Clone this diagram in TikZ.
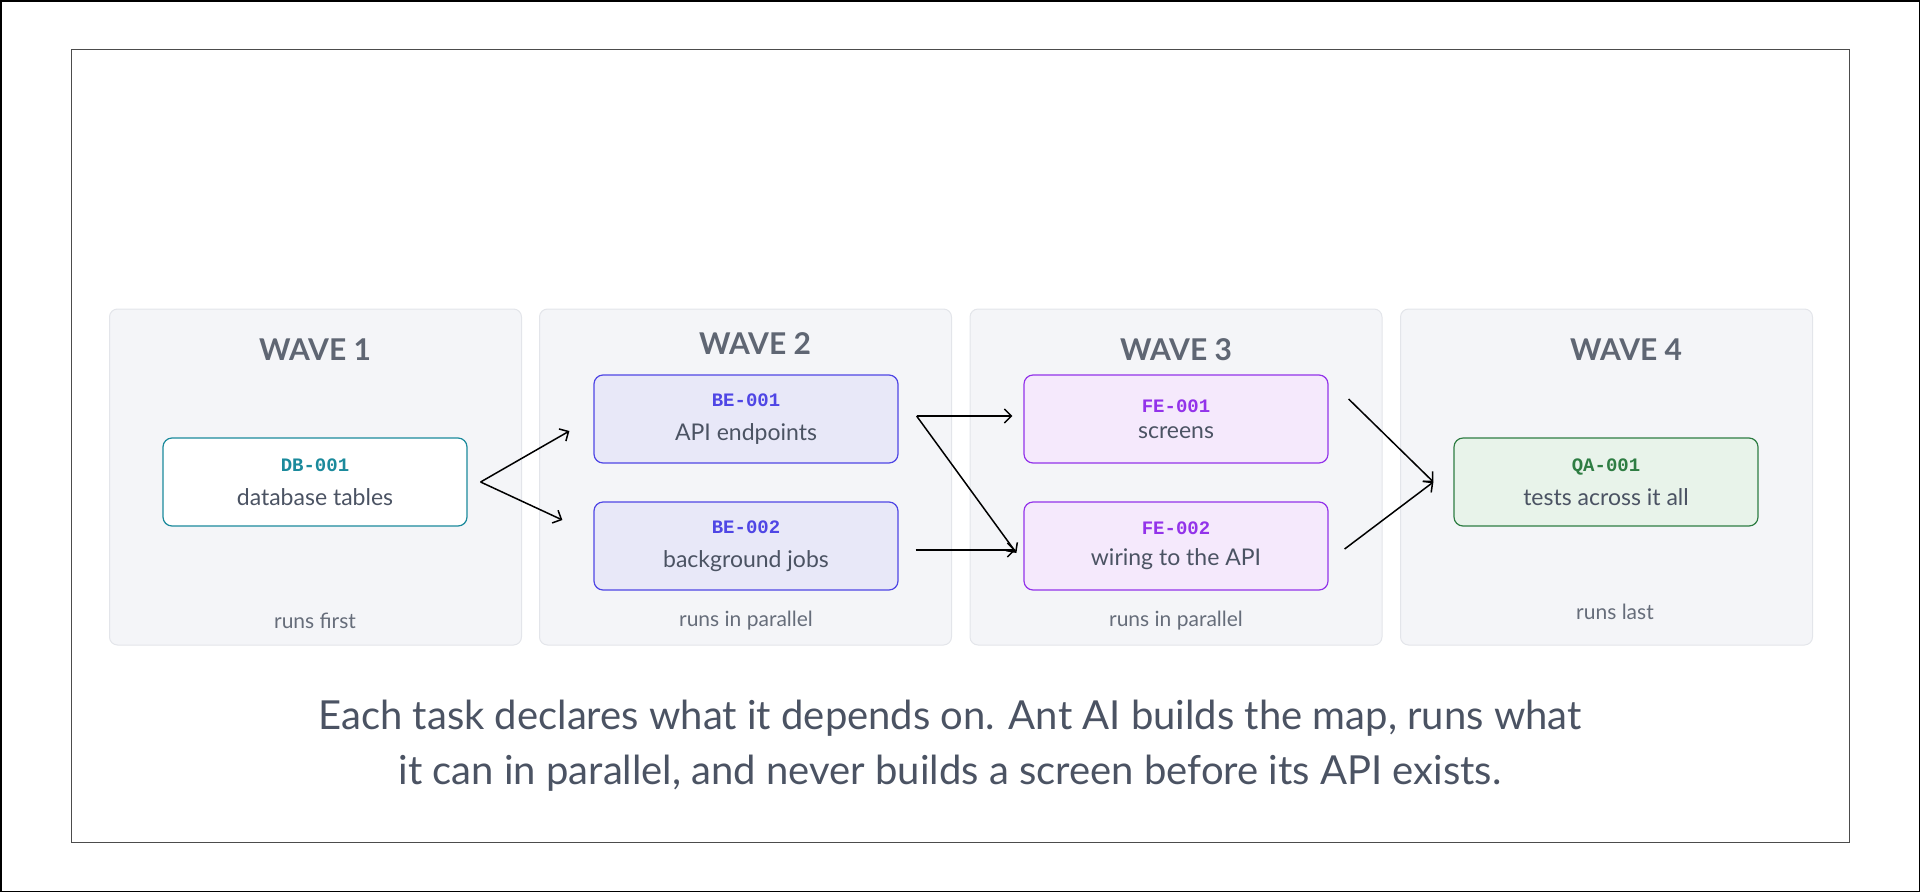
\documentclass[tikz,border=0pt]{standalone}
\usepackage{fontspec}
\setmainfont{Lato}
\newfontfamily\idfont{Liberation Mono}
\usetikzlibrary{positioning,arrows.meta}
\definecolor{panelfill}{HTML}{F4F5F8}
\definecolor{panelline}{HTML}{E3E5EA}
\definecolor{titlegray}{HTML}{5F6673}
\definecolor{textgray}{HTML}{4B5363}
\definecolor{dbcol}{HTML}{1B8A9C}
\definecolor{becol}{HTML}{4F46E5}
\definecolor{befill}{HTML}{E8E8F8}
\definecolor{fecol}{HTML}{9333EA}
\definecolor{fefill}{HTML}{F5E9FC}
\definecolor{qacol}{HTML}{2E7D43}
\definecolor{qafill}{HTML}{E8F3EA}
\tikzset{
  panel/.style={draw=panelline, fill=panelfill, rounded corners=8pt, line width=1pt,
    minimum width=412pt, minimum height=336pt, inner sep=0pt},
  task/.style={rounded corners=9pt, line width=1.2pt, minimum width=304pt,
    minimum height=88pt, align=center, text=textgray, font=\fontsize{23}{34}\selectfont},
  wavetitle/.style={text=titlegray, font=\fontsize{30}{34}\selectfont\bfseries},
  wavenote/.style={text=textgray!85, font=\fontsize{21}{24}\selectfont},
  link/.style={-{Straight Barb[length=7pt,width=14pt]}, line width=1.5pt},
}
\newcommand{\taskid}[2]{{\color{#1}\idfont\bfseries\fontsize{19}{22}\selectfont #2}}
\begin{document}
\begin{tikzpicture}[x=1pt, y=-1pt]
\useasboundingbox (0,0) rectangle (1920,892);
\draw[line width=1.5pt] (0.75,0.75) rectangle (1919.25,891.25);
\draw[line width=0.8pt, draw=black!70] (71,49) rectangle (1849,842);

% --- waves ---
\node[panel] (w1) at (315.5,477) {};
\node[panel] (w2) at (745.5,477) {};
\node[panel] (w3) at (1176,477) {};
\node[panel] (w4) at (1606.5,477) {};

\node[wavetitle] (t1) at (315,350) {WAVE 1};
\node[wavetitle] (t2) at (755,344) {WAVE 2};
\node[wavetitle] (t3) at (1176,350) {WAVE 3};
\node[wavetitle] (t4) at (1626,350) {WAVE 4};

\node[wavenote] (n1) at (315,621) {runs first};
\node[wavenote] (n2) at (746,621) {runs in parallel};
\node[wavenote] (n3) at (1176,621) {runs in parallel};
\node[wavenote] (n4) at (1615,612) {runs last};

% --- tasks ---
\node[task, draw=dbcol, fill=white] (db1) at (315,482) {\taskid{dbcol}{DB-001}\\database tables};
\node[task, draw=becol, fill=befill] (be1) at (746,419) {\taskid{becol}{BE-001}\\API endpoints};
\node[task, draw=becol, fill=befill] (be2) at (746,546) {\taskid{becol}{BE-002}\\background jobs};
\node[task, draw=fecol, fill=fefill] (fe1) at (1176,419) {\taskid{fecol}{FE-001}\\[-8pt]screens};
\node[task, draw=fecol, fill=fefill] (fe2) at (1176,546) {\taskid{fecol}{FE-002}\\[-3pt]wiring to the API};
\node[task, draw=qacol, fill=qafill] (qa1) at (1606,482) {\taskid{qacol}{QA-001}\\tests across it all};

% --- dependencies ---
\coordinate (dbout) at ([xshift=13pt]db1.east);
\draw[link] (dbout) -- ([xshift=-24pt,yshift=-12pt]be1.west);
\draw[link] (dbout) -- ([xshift=-31pt,yshift=26pt]be2.west);
\coordinate (be1out) at ([xshift=18pt,yshift=3pt]be1.east);
\draw[link] (be1out) -- ([xshift=-11pt,yshift=3pt]fe1.west);
\draw[link] (be1out) -- ([xshift=-7pt,yshift=-7pt]fe2.west);
\draw[link] ([xshift=17pt,yshift=-4pt]be2.east) -- ([xshift=-8pt,yshift=-4pt]fe2.west);
\coordinate (qain) at ([xshift=-20pt]qa1.west);
\draw[link] ([xshift=20pt,yshift=20pt]fe1.east) -- (qain);
\draw[link] ([xshift=16pt,yshift=-3pt]fe2.east) -- (qain);

% --- caption ---
\node[text=textgray, align=center, font=\fontsize{40}{55}\selectfont] (cap) at (950,746)
  {Each task declares what it depends on. Ant AI builds the map, runs what\\
   it can in parallel, and never builds a screen before its API exists.};
\end{tikzpicture}
\end{document}
